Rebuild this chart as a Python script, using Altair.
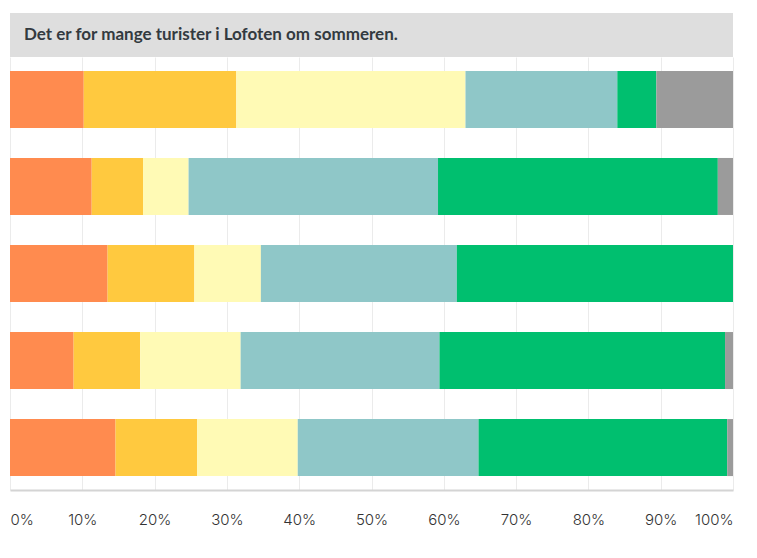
import altair as alt
import pandas as pd

title_text = "Det er for mange turister i Lofoten om sommeren."
rows = ["1", "2", "3", "4", "5"]
answers = ["Helt uenig", "Litt uenig", "Verken eller", "Litt enig", "Helt enig", "Vet ikke"]
colors = ["#ff8b4f", "#ffc93f", "#fffab5", "#8fc7c8", "#00bf6f", "#9b9b9b"]

v_helt_uenig = [10.2, 11.3, 13.5, 8.8, 14.6]
v_litt_uenig = [21.1, 7.1, 12.0, 9.2, 11.3]
v_verken = [31.7, 6.3, 9.2, 13.9, 13.9]
v_litt_enig = [21.0, 34.5, 27.1, 27.5, 25.0]
v_helt_enig = [5.4, 38.7, 38.2, 39.5, 34.4]
v_vet_ikke = [10.6, 2.1, 0.0, 1.1, 0.8]

series = [v_helt_uenig, v_litt_uenig, v_verken, v_litt_enig, v_helt_enig, v_vet_ikke]
records = []
for ai, (a, vals) in enumerate(zip(answers, series)):
    for r, v in zip(rows, vals):
        records.append({"rad": r, "svar": a, "order": ai, "pct": v / 100.0})
df = pd.DataFrame(records)

W = 723

header = alt.Chart(pd.DataFrame({"t": [title_text]})).mark_text(
    align="left", baseline="middle", font="Lato", fontSize=17, fontWeight="bold", color="#333a40"
).encode(
    x=alt.value(14), y=alt.value(22), text="t:N"
).properties(width=W, height=44, view=alt.ViewBackground(fill="#dedede", stroke=None))

bars = alt.Chart(df).mark_bar().encode(
    x=alt.X("pct:Q", stack="zero",
            scale=alt.Scale(domain=[0, 1], nice=False),
            axis=alt.Axis(format=".0%", values=[i / 10 for i in range(11)], title=None,
                          grid=True, gridColor="#ebebeb", gridWidth=1,
                          domainColor="#d4d4d4", domainWidth=2, ticks=False,
                          labelFlush=True, labelPadding=22, labelFont="Inter",
                          labelFontSize=15, labelFontWeight=300, labelColor="#333333")),
    y=alt.Y("rad:N", sort=rows, title=None,
            scale=alt.Scale(paddingInner=0.345, paddingOuter=0.16),
            axis=None),
    color=alt.Color("svar:N", sort=answers,
                    scale=alt.Scale(domain=answers, range=colors), legend=None),
    order=alt.Order("order:Q", sort="ascending"),
).properties(width=W, height=433)

chart = alt.vconcat(header, bars, spacing=0).properties(
    padding={"left": 2, "top": 5, "right": 5, "bottom": 5}
).configure_view(stroke=None)

chart.save("out.html", embed_options={"renderer": "svg", "actions": False})
